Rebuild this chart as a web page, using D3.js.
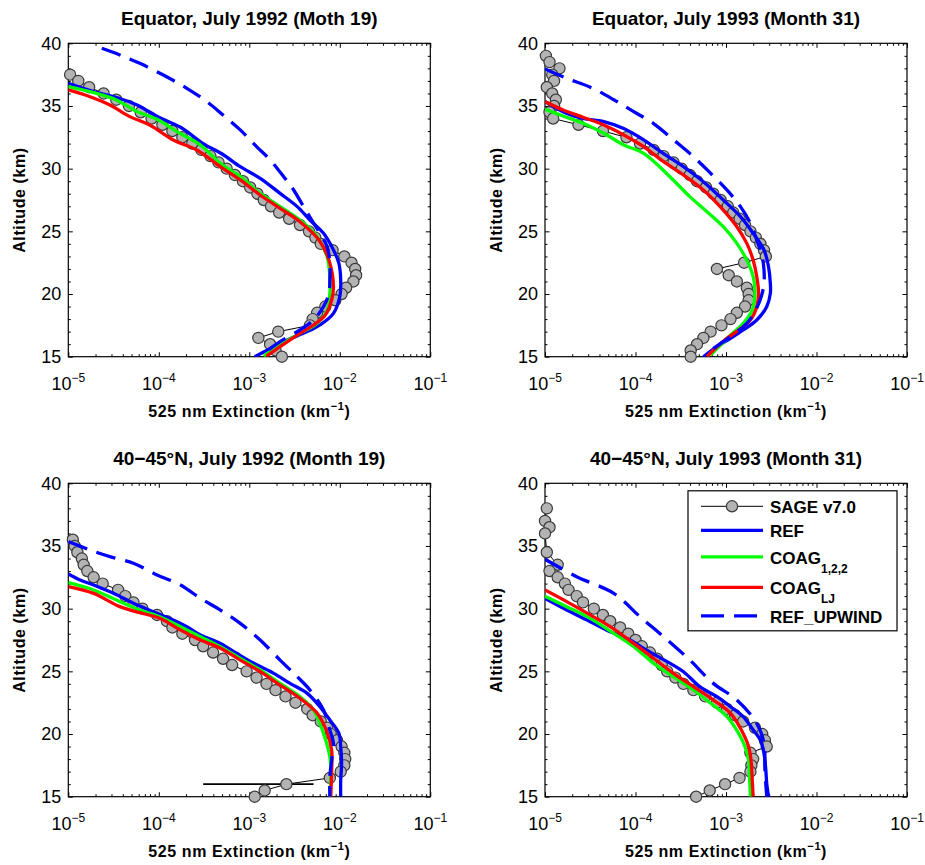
<!DOCTYPE html>
<html>
<head>
<meta charset="utf-8">
<script src="https://cdn.jsdelivr.net/npm/d3@7"></script>
<style>
  body { margin: 0; background: #fff; }
  text { font-family: "Liberation Sans", Arial, Helvetica, sans-serif; fill: #000; }
</style>
</head>
<body>
<svg id="chart" width="925" height="865"></svg>
<script>
// every series: [altitude (km), log10 of 525 nm extinction (km^-1)]

// Equator, July 1992
const eq92Sage = [[37.5,-4.98],[37.0,-4.89],[36.5,-4.77],[36.0,-4.61],[35.5,-4.47],[35.0,-4.33],[34.5,-4.20],[34.0,-4.08],[33.5,-3.96],[33.0,-3.85],[32.5,-3.74],[32.0,-3.63],[31.5,-3.53],[31.0,-3.43],[30.5,-3.34],[30.0,-3.25],[29.5,-3.16],[29.0,-3.07],[28.5,-2.99],[28.0,-2.91],[27.5,-2.84],[27.0,-2.76],[26.5,-2.67],[26.0,-2.56],[25.5,-2.44],[25.0,-2.34],[24.5,-2.27],[24.0,-2.21],[23.5,-2.08],[23.0,-1.95],[22.5,-1.87],[22.0,-1.83],[21.5,-1.82],[21.0,-1.85],[20.5,-1.93],[20.0,-1.98],[19.5,-2.05],[19.0,-2.16],[18.5,-2.25],[18.0,-2.30],[17.5,-2.33],[17.0,-2.68],[16.5,-2.90],[16.0,-2.77],[15.5,-2.71],[15.0,-2.64]];
const eq92Ref = [[36.8,-5.0],[36.14,-4.72],[35.6,-4.43],[35.08,-4.24],[34.1,-4.0],[33.3,-3.76],[32.0,-3.51],[31.17,-3.30],[30.16,-3.10],[29.23,-2.88],[28.03,-2.66],[26.97,-2.47],[25.9,-2.33],[24.84,-2.18],[23.51,-2.07],[22.45,-2.01],[21.1,-1.99],[19.8,-2.0],[18.46,-2.07],[17.53,-2.22],[17.0,-2.36],[16.33,-2.58],[15.8,-2.73],[15.0,-2.94]];
const eq92Coag122 = [[36.54,-5.0],[36.06,-4.72],[35.48,-4.47],[34.55,-4.24],[33.94,-4.02],[32.95,-3.80],[31.89,-3.54],[30.43,-3.32],[29.36,-3.10],[28.03,-2.88],[26.97,-2.66],[25.9,-2.44],[24.57,-2.25],[22.98,-2.14],[21.38,-2.11],[20.05,-2.11],[18.72,-2.14],[17.66,-2.25],[16.86,-2.44],[15.93,-2.66],[15.05,-2.84]];
const eq92CoagLJ = [[36.28,-5.0],[35.74,-4.76],[35.08,-4.54],[34.15,-4.32],[33.48,-4.10],[32.29,-3.84],[31.49,-3.58],[30.16,-3.32],[29.1,-3.10],[27.9,-2.88],[26.84,-2.66],[25.77,-2.44],[24.31,-2.23],[22.71,-2.12],[20.59,-2.07],[19.52,-2.09],[18.32,-2.16],[17.53,-2.29],[16.73,-2.47],[15.8,-2.66],[15.05,-2.81]];
const eq92Upwind = [[39.6,-4.63],[39.07,-4.43],[38.4,-4.21],[37.47,-3.95],[36.41,-3.69],[35.35,-3.47],[34.28,-3.29],[33.09,-3.10],[31.76,-2.92],[30.7,-2.77],[29.36,-2.62],[28.3,-2.51],[26.97,-2.40],[25.9,-2.31],[24.84,-2.22],[23.78,-2.14],[22.45,-2.11],[21.12,-2.11],[20.05,-2.12],[18.99,-2.18],[17.93,-2.29],[17.13,-2.44],[16.2,-2.66],[15.27,-2.84]];

// Equator, July 1993
const eq93Sage = [[39.0,-4.99],[38.5,-4.95],[38.0,-4.84],[37.5,-4.92],[37.0,-4.90],[36.5,-4.98],[36.0,-4.92],[35.5,-4.88],[35.0,-4.90],[34.5,-4.95],[34.0,-4.91],[33.5,-4.63],[33.0,-4.36],[32.5,-4.10],[32.0,-3.95],[31.5,-3.80],[31.0,-3.69],[30.5,-3.58],[30.0,-3.49],[29.5,-3.40],[29.0,-3.32],[28.5,-3.22],[28.0,-3.14],[27.5,-3.06],[27.0,-2.98],[26.5,-2.92],[26.0,-2.85],[25.5,-2.79],[25.0,-2.73],[24.5,-2.67],[24.0,-2.62],[23.5,-2.58],[23.0,-2.56],[22.5,-2.80],[22.0,-3.10],[21.5,-2.97],[21.0,-2.88],[20.5,-2.77],[20.0,-2.75],[19.5,-2.75],[19.0,-2.79],[18.5,-2.88],[18.0,-2.95],[17.5,-3.05],[17.0,-3.17],[16.5,-3.25],[16.0,-3.32],[15.5,-3.39],[15.0,-3.39]];
const eq93Ref = [[35.35,-5.0],[34.4,-4.76],[34.0,-4.58],[33.75,-4.35],[33.2,-4.13],[32.3,-3.91],[31.2,-3.69],[30.16,-3.47],[28.96,-3.25],[27.5,-3.03],[26.17,-2.84],[24.84,-2.70],[23.51,-2.58],[22.18,-2.53],[20.85,-2.51],[20.05,-2.51],[18.99,-2.55],[17.93,-2.66],[17.13,-2.81],[16.46,-2.95],[15.8,-3.10],[15.0,-3.25]];
const eq93Coag122 = [[34.73,-5.0],[34.2,-4.80],[33.62,-4.58],[32.82,-4.35],[31.89,-4.13],[31.22,-3.91],[29.36,-3.62],[27.77,-3.40],[26.57,-3.21],[25.37,-3.03],[24.04,-2.88],[22.71,-2.77],[21.38,-2.70],[20.05,-2.68],[18.72,-2.71],[17.66,-2.81],[16.73,-2.95],[15.93,-3.06],[15.13,-3.17]];
const eq93CoagLJ = [[35.35,-5.0],[34.68,-4.80],[34.1,-4.58],[33.48,-4.35],[32.69,-4.13],[31.76,-3.91],[30.56,-3.69],[29.5,-3.47],[28.3,-3.25],[26.7,-3.03],[25.37,-2.88],[24.04,-2.77],[22.71,-2.70],[21.38,-2.66],[20.05,-2.64],[18.99,-2.66],[17.93,-2.73],[17.13,-2.86],[16.46,-2.99],[15.8,-3.10],[15.0,-3.21]];
const eq93Upwind = [[37.95,-5.0],[37.2,-4.76],[36.5,-4.50],[35.5,-4.24],[34.55,-4.02],[33.6,-3.80],[32.3,-3.58],[30.96,-3.36],[29.63,-3.17],[28.3,-2.99],[26.97,-2.84],[25.64,-2.73],[24.3,-2.66],[22.98,-2.60],[21.9,-2.58],[20.85,-2.58],[19.8,-2.61],[18.6,-2.68],[17.66,-2.77],[16.86,-2.90],[16.2,-3.03],[15.53,-3.16],[15.13,-3.21]];

// 40-45N, July 1992
const nh92Sage = [[35.5,-4.95],[35.0,-4.93],[34.5,-4.90],[34.0,-4.85],[33.5,-4.83],[33.0,-4.79],[32.5,-4.72],[32.0,-4.62],[31.5,-4.45],[31.0,-4.37],[30.5,-4.28],[30.0,-4.18],[29.5,-4.02],[29.0,-3.91],[28.5,-3.85],[28.0,-3.74],[27.5,-3.60],[27.0,-3.51],[26.5,-3.40],[26.0,-3.29],[25.5,-3.19],[25.0,-3.03],[24.5,-2.92],[24.0,-2.81],[23.5,-2.71],[23.0,-2.60],[22.5,-2.49],[22.0,-2.36],[21.5,-2.30],[21.0,-2.21],[20.5,-2.14],[20.0,-2.10],[19.5,-2.03],[19.0,-1.98],[18.5,-1.95],[18.0,-1.94],[17.5,-1.95],[17.0,-1.99],[16.5,-2.11],[16.0,-2.59],[15.5,-2.83],[15.0,-2.94]];
const nh92SageSpike = [[16.0,-3.51],[16.0,-2.29]];
const nh92Ref = [[32.77,-5.0],[32.29,-4.87],[31.89,-4.72],[31.22,-4.50],[30.43,-4.28],[29.76,-4.06],[29.1,-3.84],[28.56,-3.69],[27.9,-3.54],[27.23,-3.32],[26.44,-3.14],[25.64,-2.95],[24.84,-2.73],[24.04,-2.55],[23.24,-2.36],[22.18,-2.22],[21.12,-2.11],[20.05,-2.01],[18.99,-1.99],[17.66,-1.98],[16.33,-1.99],[15.0,-1.99]];
const nh92Coag122 = [[32.07,-5.0],[31.49,-4.72],[30.56,-4.43],[29.89,-4.21],[29.36,-3.99],[28.56,-3.76],[27.77,-3.54],[26.97,-3.32],[26.04,-3.10],[25.11,-2.88],[24.04,-2.66],[22.98,-2.44],[21.91,-2.29],[20.05,-2.18],[18.19,-2.11],[16.6,-2.10],[15.0,-2.11]];
const nh92CoagLJ = [[31.76,-5.0],[31.22,-4.72],[30.16,-4.43],[29.68,-4.21],[29.23,-3.99],[28.3,-3.76],[27.5,-3.54],[26.84,-3.32],[25.9,-3.10],[24.97,-2.88],[23.91,-2.66],[22.85,-2.44],[21.65,-2.25],[20.32,-2.15],[18.72,-2.09],[17.13,-2.09],[15.0,-2.10]];
const nh92Upwind = [[35.35,-5.0],[34.68,-4.76],[34.15,-4.54],[33.62,-4.28],[32.69,-4.02],[31.89,-3.76],[30.82,-3.54],[29.89,-3.32],[28.83,-3.10],[27.5,-2.88],[25.9,-2.66],[24.57,-2.47],[23.51,-2.33],[21.91,-2.18],[20.32,-2.11],[19.26,-2.07],[17.93,-2.09],[16.6,-2.11],[15.0,-2.11]];

// 40-45N, July 1993
const nh93Sage = [[38.0,-4.98],[37.0,-5.0],[36.5,-4.95],[36.0,-5.0],[34.5,-4.98],[33.5,-4.86],[33.0,-4.95],[32.5,-4.86],[32.0,-4.78],[31.5,-4.74],[31.0,-4.65],[30.5,-4.58],[30.0,-4.46],[29.5,-4.36],[29.0,-4.28],[28.5,-4.17],[28.0,-4.08],[27.5,-4.0],[27.0,-3.93],[26.5,-3.84],[26.0,-3.76],[25.5,-3.71],[25.0,-3.65],[24.5,-3.56],[24.0,-3.47],[23.5,-3.36],[23.0,-3.23],[22.5,-3.10],[22.0,-2.99],[21.5,-2.90],[21.0,-2.81],[20.5,-2.68],[20.0,-2.60],[19.5,-2.57],[19.0,-2.55],[18.5,-2.73],[18.0,-2.70],[17.5,-2.72],[17.0,-2.73],[16.5,-2.85],[16.0,-3.01],[15.5,-3.18],[15.0,-3.33]];
const nh93Ref = [[30.82,-5.0],[29.89,-4.76],[28.96,-4.50],[28.16,-4.28],[27.5,-4.06],[26.7,-3.88],[25.77,-3.65],[24.97,-3.47],[23.78,-3.29],[22.98,-3.10],[22.18,-2.95],[21.38,-2.81],[20.32,-2.70],[19.52,-2.62],[18.46,-2.58],[17.13,-2.56],[16.06,-2.55],[15.0,-2.53]];
const nh93Coag122 = [[31.0,-5.0],[30.16,-4.76],[29.23,-4.50],[28.03,-4.24],[26.97,-4.02],[25.64,-3.80],[24.57,-3.58],[23.51,-3.36],[22.45,-3.17],[21.38,-2.99],[20.05,-2.86],[18.99,-2.79],[17.93,-2.75],[16.6,-2.74],[15.0,-2.73]];
const nh93CoagLJ = [[31.49,-5.0],[30.56,-4.76],[29.5,-4.50],[28.56,-4.28],[27.23,-4.02],[26.04,-3.80],[24.84,-3.58],[23.78,-3.36],[22.71,-3.14],[21.65,-2.95],[20.32,-2.83],[18.99,-2.75],[17.66,-2.72],[16.33,-2.71],[15.0,-2.70]];
const nh93Upwind = [[33.94,-5.0],[32.55,-4.65],[31.22,-4.24],[29.36,-3.95],[27.77,-3.69],[25.9,-3.40],[24.04,-3.14],[22.71,-2.88],[20.85,-2.66],[19.26,-2.58],[17.13,-2.57],[15.0,-2.55]];

const titles = [
  'Equator, July 1992 (Moth 19)',
  'Equator, July 1993 (Month 31)',
  '40\u221245\u00b0N, July 1992 (Month 19)',
  '40\u221245\u00b0N, July 1993 (Month 31)'
];
const xDecades = [-5, -4, -3, -2, -1];
const yMajorTicks = [15, 20, 25, 30, 35, 40];
const legendNames = [['SAGE v7.0', ''], ['REF', ''], ['COAG', '1,2,2'], ['COAG', 'LJ'], ['REF_UPWIND', '']];

const panels = [
  {sage: eq92Sage, ref: eq92Ref, coag: eq92Coag122, lj: eq92CoagLJ, up: eq92Upwind},
  {sage: eq93Sage, ref: eq93Ref, coag: eq93Coag122, lj: eq93CoagLJ, up: eq93Upwind},
  {sage: nh92Sage, ref: nh92Ref, coag: nh92Coag122, lj: nh92CoagLJ, up: nh92Upwind, spike: nh92SageSpike},
  {sage: nh93Sage, ref: nh93Ref, coag: nh93Coag122, lj: nh93CoagLJ, up: nh93Upwind, legend: true}
];

// layout
const origins = [[68.3, 43.3], [545, 43.3], [68.3, 483.3], [545, 483.3]];
const plotW = 362, plotH = 313.4;

const styles = {
  sage: {color: '#000', width: 1},
  ref: {color: '#0000ff', width: 3.3},
  coag: {color: '#00ff00', width: 3.3},
  lj: {color: '#ff0000', width: 3.3},
  up: {color: '#0000ff', width: 3.3, dash: '20,10'}
};
const markerFill = '#b3b3b3', markerStroke = '#3a3a3a', markerR = 5.6;

const svg = d3.select('#chart');

panels.forEach((p, i) => {
  const [ox, oy] = origins[i];
  const g = svg.append('g').attr('transform', `translate(${ox},${oy})`);

  const x = d3.scaleLog().domain([1e-5, 1e-1]).range([0, plotW]);
  const y = d3.scaleLinear().domain([15, 40]).range([plotH, 0]);
  const px = d => x(Math.pow(10, d[1]));
  const py = d => y(d[0]);

  g.append('defs').append('clipPath').attr('id', `clip${i}`)
    .append('rect').attr('width', plotW).attr('height', plotH);

  // ticks (inside, on all four sides)
  const minor = [];
  xDecades.slice(0, -1).forEach(k => { for (let m = 2; m <= 9; m++) minor.push(m * Math.pow(10, k)); });
  const major = xDecades.map(k => Math.pow(10, k));
  const yMinor = d3.range(15, 41).filter(v => v % 5 !== 0);

  const addAxis = (axis, tr) => {
    const a = g.append('g').attr('transform', tr).call(axis);
    a.select('.domain').remove();
    a.selectAll('line').attr('stroke', '#000').attr('stroke-width', 1);
  };
  addAxis(d3.axisBottom(x).tickValues(major).tickSize(-4.5).tickFormat(''), `translate(0,${plotH})`);
  addAxis(d3.axisBottom(x).tickValues(minor).tickSize(-2.5).tickFormat(''), `translate(0,${plotH})`);
  addAxis(d3.axisTop(x).tickValues(major).tickSize(-4.5).tickFormat(''), 'translate(0,0)');
  addAxis(d3.axisTop(x).tickValues(minor).tickSize(-2.5).tickFormat(''), 'translate(0,0)');
  addAxis(d3.axisLeft(y).tickValues(yMajorTicks).tickSize(-4.5).tickFormat(''), 'translate(0,0)');
  addAxis(d3.axisLeft(y).tickValues(yMinor).tickSize(-2.5).tickFormat(''), 'translate(0,0)');
  addAxis(d3.axisRight(y).tickValues(yMajorTicks).tickSize(-4.5).tickFormat(''), `translate(${plotW},0)`);
  addAxis(d3.axisRight(y).tickValues(yMinor).tickSize(-2.5).tickFormat(''), `translate(${plotW},0)`);

  g.append('rect').attr('width', plotW).attr('height', plotH)
    .attr('fill', 'none').attr('stroke', '#000').attr('stroke-width', 1.2);

  // tick labels
  g.selectAll('.ylab').data(yMajorTicks).enter().append('text')
    .attr('x', -7).attr('y', d => y(d)).attr('dy', '0.36em')
    .attr('text-anchor', 'end').style('font-size', '18px').text(d => d);

  const xl = g.selectAll('.xlab').data(xDecades).enter().append('text')
    .attr('x', d => x(Math.pow(10, d))).attr('y', plotH + 33)
    .attr('text-anchor', 'middle').style('font-size', '18px');
  xl.append('tspan').text('10');
  xl.append('tspan').attr('dy', -8).style('font-size', '12px').text(d => '\u2212' + Math.abs(d));

  // axis labels and title
  const xt = g.append('text').attr('x', plotW / 2).attr('y', plotH + 60)
    .attr('text-anchor', 'middle').style('font-size', '16px').style('font-weight', 'bold')
    .style('letter-spacing', '0.6px');
  xt.append('tspan').text('525 nm Extinction (km');
  xt.append('tspan').attr('dy', -7).style('font-size', '11px').text('\u22121');
  xt.append('tspan').attr('dy', 7).text(')');

  g.append('text').attr('transform', `translate(-43,${plotH / 2}) rotate(-90)`)
    .attr('text-anchor', 'middle').style('font-size', '16px').style('font-weight', 'bold')
    .style('letter-spacing', '0.6px').text('Altitude (km)');

  g.append('text').attr('x', plotW / 2).attr('y', -18)
    .attr('text-anchor', 'middle').style('font-size', '19px').style('font-weight', 'bold')
    .text(titles[i]);

  // SAGE profile
  const straight = d3.line().x(px).y(py);
  g.append('path').attr('d', straight(p.sage)).attr('fill', 'none')
    .attr('stroke', styles.sage.color).attr('stroke-width', styles.sage.width)
    .attr('clip-path', `url(#clip${i})`);
  if (p.spike) {
    g.append('path').attr('d', straight(p.spike)).attr('fill', 'none')
      .attr('stroke', '#000').attr('stroke-width', 1.6);
  }
  g.selectAll('.sage').data(p.sage).enter().append('circle')
    .attr('cx', px).attr('cy', py).attr('r', markerR)
    .attr('fill', markerFill).attr('stroke', markerStroke).attr('stroke-width', 1.2);

  // model profiles
  const smooth = d3.line().x(px).y(py).curve(d3.curveCatmullRom.alpha(0.5));
  ['ref', 'coag', 'lj', 'up'].forEach(k => {
    g.append('path').attr('d', smooth(p[k])).attr('fill', 'none')
      .attr('stroke', styles[k].color).attr('stroke-width', styles[k].width)
      .attr('stroke-dasharray', styles[k].dash || null)
      .attr('clip-path', `url(#clip${i})`);
  });

  if (p.legend) {
    const lg = g.append('g').attr('transform', 'translate(143,7.5)');
    lg.append('rect').attr('width', 209).attr('height', 140)
      .attr('fill', '#fff').attr('stroke', '#000').attr('stroke-width', 1.2);
    const rowsY = [15.5, 39.5, 66, 96.5, 125];
    const keys = ['sage', 'ref', 'coag', 'lj', 'up'];
    keys.forEach((k, j) => {
      const ry = rowsY[j];
      lg.append('line').attr('x1', 13).attr('x2', 75).attr('y1', ry).attr('y2', ry)
        .attr('stroke', styles[k].color).attr('stroke-width', styles[k].width)
        .attr('stroke-dasharray', k === 'up' ? '23,10' : null);
      if (k === 'sage') {
        lg.append('circle').attr('cx', 44).attr('cy', ry).attr('r', markerR)
          .attr('fill', markerFill).attr('stroke', markerStroke).attr('stroke-width', 1.2);
      }
      const t = lg.append('text').attr('x', 82).attr('y', ry + 7)
        .style('font-size', '17px').style('font-weight', 'bold');
      t.append('tspan').text(legendNames[j][0]);
      if (legendNames[j][1]) {
        t.append('tspan').attr('dy', 9).style('font-size', '12px').text(legendNames[j][1]);
      }
    });
  }
});
</script>
</body>
</html>
